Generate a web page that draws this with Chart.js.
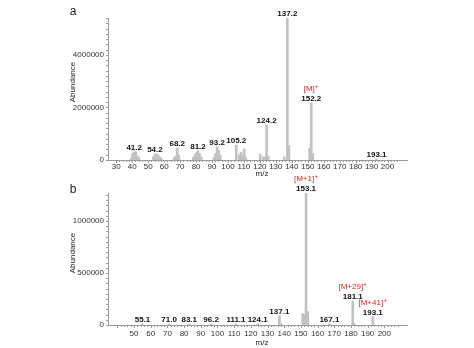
<!DOCTYPE html>
<html>
<head>
<meta charset="UTF-8">
<title>Mass spectra</title>
<script src="https://cdn.jsdelivr.net/npm/chart.js@4"></script>
<style>
  html, body { margin: 0; padding: 0; background: #fff; }
  .panel { position: absolute; left: 0; }
  #specA { top: 0; }
  #specB { top: 165px; }
</style>
</head>
<body>
<canvas id="specA" class="panel" width="474" height="180"></canvas>
<canvas id="specB" class="panel" width="474" height="183"></canvas>
<script>
// spectrum a
const mzA = [39.2, 40.2, 41.2, 42.2, 43.2, 44.2,
  53.2, 54.2, 55.2, 56.2, 57.2, 58.2,
  66.2, 67.2, 68.2, 69.2,
  78.2, 79.2, 80.2, 81.2, 82.2, 83.2,
  91.2, 92.2, 93.2, 94.2, 95.2,
  105.2, 107.2, 108.2, 109.2, 110.2, 111.2,
  120.2, 122.2, 123.2, 124.2, 125.2,
  135.2, 137.2, 138.2,
  151.2, 152.2, 153.2,
  193.1];
const abundA = [60000, 250000, 320000, 300000, 160000, 90000,
  120000, 230000, 220000, 200000, 120000, 60000,
  80000, 150000, 450000, 180000,
  100000, 200000, 280000, 350000, 250000, 120000,
  100000, 250000, 500000, 350000, 180000,
  560000, 200000, 300000, 150000, 420000, 80000,
  220000, 120000, 100000, 1330000, 150000,
  120000, 5400000, 550000,
  450000, 2170000, 250000,
  30000];
const labelMzA = [41.2, 54.2, 68.2, 81.2, 93.2, 105.2, 124.2, 137.2, 152.2, 193.1];
const tagsA = ['', '', '', '', '', '', '', '', '[M]', ''];
const xTicksA = [30, 40, 50, 60, 70, 80, 90, 100, 110, 120, 130, 140, 150, 160, 170, 180, 190, 200];
const yTicksA = [0, 2000000, 4000000];

// spectrum b
const mzB = [55.1, 71.0, 83.1, 96.2, 111.1, 124.1, 137.1, 138.1,
  151.1, 152.1, 153.1, 154.1, 167.1, 181.1, 182.1, 193.1];
const abundB = [8000, 8000, 8000, 8000, 10000, 10000, 90000, 12000,
  110000, 100000, 1270000, 130000, 10000, 230000, 12000, 80000];
const labelMzB = [55.1, 71.0, 83.1, 96.2, 111.1, 124.1, 137.1, 153.1, 167.1, 181.1, 193.1];
const tagsB = ['', '', '', '', '', '', '', '[M+1]', '', '[M+29]', '[M+41]'];
const xTicksB = [50, 60, 70, 80, 90, 100, 110, 120, 130, 140, 150, 160, 170, 180, 190, 200];
const yTicksB = [0, 500000, 1000000];

const FONT = '"Liberation Sans", Arial, sans-serif';
const AXIS_GREY = '#9a9a9a';

// m/z value text over the labelled peaks, with the red ion tag above it
const peakLabels = {
  id: 'peakLabels',
  afterDatasetsDraw(chart, args, opts) {
    const { ctx, scales: { x, y } } = chart;
    const points = chart.data.datasets[0].data;
    ctx.save();
    ctx.textAlign = 'center';
    ctx.textBaseline = 'alphabetic';
    opts.mz.forEach((m, i) => {
      const pt = points.find(p => p.x === m);
      const px = x.getPixelForValue(m);
      const py = y.getPixelForValue(pt.y) - 2;
      ctx.font = 'bold 8px ' + FONT;
      ctx.fillStyle = '#111';
      ctx.fillText(m.toFixed(1), px, py);
      const tag = opts.tags[i];
      if (tag) {
        ctx.font = '8px ' + FONT;
        ctx.fillStyle = '#e3221c';
        const w = ctx.measureText(tag).width;
        ctx.fillText(tag, px - 2, py - 10);
        ctx.font = '6px ' + FONT;
        ctx.fillText('+', px - 2 + w / 2 + 2, py - 13);
      }
    });
    ctx.restore();
  }
};

// small tick marks along both axes plus panel letter and axis titles
const axisDecor = {
  id: 'axisDecor',
  afterDraw(chart, args, opts) {
    const { ctx, chartArea, scales: { x, y } } = chart;
    ctx.save();
    ctx.strokeStyle = AXIS_GREY;
    ctx.lineWidth = 1;
    ctx.beginPath();
    for (let v = Math.ceil(x.min / 2) * 2; v <= x.max; v += 2) {
      const px = Math.round(x.getPixelForValue(v)) + 0.5;
      ctx.moveTo(px, chartArea.bottom);
      ctx.lineTo(px, chartArea.bottom + (v % 10 === 0 ? 3 : 2));
    }
    for (let v = 0; v <= y.max; v += opts.yMinor) {
      const py = Math.round(y.getPixelForValue(v)) + 0.5;
      ctx.moveTo(chartArea.left, py);
      ctx.lineTo(chartArea.left - 2, py);
    }
    ctx.stroke();

    ctx.fillStyle = '#222';
    ctx.textAlign = 'center';
    ctx.textBaseline = 'middle';
    ctx.font = '12px ' + FONT;
    ctx.fillText(opts.letter, opts.letterPos[0], opts.letterPos[1]);
    ctx.font = '8px ' + FONT;
    ctx.fillText('m/z', opts.xTitlePos[0], opts.xTitlePos[1]);
    ctx.translate(opts.yTitlePos[0], opts.yTitlePos[1]);
    ctx.rotate(-Math.PI / 2);
    ctx.fillText('Abundance', 0, 0);
    ctx.restore();
  }
};

function makeSpectrum(id, mz, abund, cfg) {
  return new Chart(document.getElementById(id), {
    type: 'bar',
    data: {
      datasets: [{
        data: mz.map((m, i) => ({ x: m, y: abund[i] })),
        backgroundColor: '#c2c2c2',
        borderWidth: 0,
        barThickness: 2
      }]
    },
    options: {
      responsive: false,
      animation: false,
      layout: { padding: { top: cfg.top, right: 67, left: 0, bottom: 0 } },
      plugins: {
        legend: { display: false },
        tooltip: { enabled: false },
        peakLabels: { mz: cfg.labelMz, tags: cfg.tags },
        axisDecor: cfg.decor
      },
      scales: {
        x: {
          type: 'linear',
          min: cfg.xMin,
          max: cfg.xMax,
          afterBuildTicks: s => { s.ticks = cfg.xTicks.map(v => ({ value: v })); },
          afterFit: s => { s.height = cfg.xHeight; },
          grid: { display: false, drawTicks: false },
          border: { color: AXIS_GREY },
          ticks: { autoSkip: false, maxRotation: 0, padding: cfg.xPad, color: '#333', font: { size: 8, family: FONT } }
        },
        y: {
          min: 0,
          max: cfg.yMax,
          afterBuildTicks: s => { s.ticks = cfg.yTicks.map(v => ({ value: v })); },
          afterFit: s => { s.width = 108; },
          grid: { display: false, drawTicks: false },
          border: { color: AXIS_GREY },
          ticks: { padding: 4, color: '#333', font: { size: 8, family: FONT }, callback: v => String(v) }
        }
      }
    },
    plugins: [peakLabels, axisDecor]
  });
}

makeSpectrum('specA', mzA, abundA, {
  top: 18, xHeight: 20, xPad: 2,
  xMin: 30, xMax: 207, yMax: 5400000,
  xTicks: xTicksA, yTicks: yTicksA,
  labelMz: labelMzA, tags: tagsA,
  decor: { letter: 'a', letterPos: [73, 12], xTitlePos: [262, 174], yTitlePos: [73, 82], yMinor: 200000 }
});

makeSpectrum('specB', mzB, abundB, {
  top: 28, xHeight: 23, xPad: 4,
  xMin: 40, xMax: 208, yMax: 1270000,
  xTicks: xTicksB, yTicks: yTicksB,
  labelMz: labelMzB, tags: tagsB,
  decor: { letter: 'b', letterPos: [73, 25], xTitlePos: [262, 178], yTitlePos: [73, 88], yMinor: 50000 }
});
</script>
</body>
</html>
